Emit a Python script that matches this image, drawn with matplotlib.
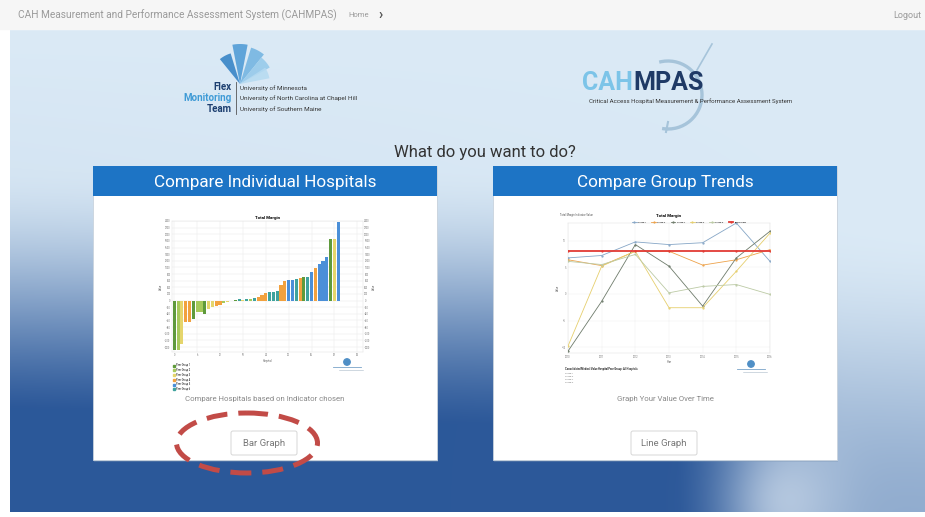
import numpy as np
import matplotlib.pyplot as plt
from matplotlib.patches import Rectangle, FancyBboxPatch, Ellipse, Polygon, Arc, Circle

plt.rcParams['font.family'] = ['Roboto', 'DejaVu Sans']

W, H = 925, 517

# ---- bar thumbnail data (Total Margin per hospital) ----
hospital_margin = [-1500, -1500, -1300, -650, -650, -550, -350, -350, -400, -250, -200,
                   -150, -120, -80, -50, -20, 30, 50, 10, 40, 60, 80, 120, 170, 220,
                   250, 270, 280, 480, 580, 620, 630, 660, 680, 700, 700, 850, 970,
                   1100, 1200, 1300, 1850, 1850, 2370]
hospital_group = [0, 1, 2, 3, 3, 0, 1, 1, 0, 2, 2, 3, 3, 1, 2, 5, 0, 5, 2, 5, 1, 5, 3, 3,
                  3, 5, 5, 5, 3, 3, 4, 4, 5, 3, 0, 5, 4, 3, 4, 4, 4, 0, 2, 4]
group_names = ["Peer Group 1", "Peer Group 2", "Peer Group 3",
               "Peer Group 4", "Peer Group 5", "Peer Group 6"]
bar_yticks = list(range(-1400, 2401, 200))

# ---- line thumbnail data (Total Margin over time) ----
years = [2010, 2011, 2012, 2013, 2014, 2015, 2016]
trend_names = ["Group 1", "Group 2", "Group 3", "Group 4", "Group 5", "Benchmark"]
trend_values = [
    [6.75, 7.2, 9.75, 9.25, 9.6, 13.3, 6.1],
    [6.4, 5.3, 8.0, 8.0, 5.4, 6.4, 8.3],
    [-10.75, -1.4, 9.25, 5.2, -2.3, 6.75, 11.75],
    [-9.8, 5.2, 8.0, -2.6, -2.6, 4.25, 11.4],
    [6.1, 5.5, 7.4, 0.2, 1.4, 1.75, -0.1],
    [8.0, 8.0, 8.0, 8.0, 8.0, 8.0, 8.0],
]
line_yticks = [-10, -5, 0, 5, 10]

group_colors = ['#5f9a3c', '#a6c95a', '#e5d56c', '#f2a13e', '#4b8fd8', '#3fa39d']
trend_colors = ['#86a6c6', '#eda24a', '#6e7b6b', '#e6cf6e', '#bccaa5', '#e23b35']


def px_axes(x0, y0, x1, y1):
    return fig.add_axes([x0 / W, 1 - y1 / H, (x1 - x0) / W, (y1 - y0) / H])


fig = plt.figure(figsize=(W / 100, H / 100), dpi=100)
fig.patch.set_facecolor('white')
bg = fig.add_axes([0, 0, 1, 1])
bg.set_xlim(0, W)
bg.set_ylim(H, 0)
bg.axis('off')

# page background gradient
yy, xx = np.mgrid[30:512, 10:925].astype(float)
t = (yy - 30) / 482.0
xn = (xx - 10) / 915.0
g = np.clip((xx - 650) / 200.0, 0, 1)
g = g * g * (3 - 2 * g)
dark = np.clip((t - 0.28 - 0.12 * g) / 0.62, 0, 1)
dark = dark * dark * (3 - 2 * dark)
dark = dark * (1 - 0.58 * g) + 0.12 * (1 - xn) * t
spot = np.exp(-((xx - 785) / 55.0) ** 2 - ((yy - 500) / 65.0) ** 2)
light = np.array([219, 234, 246]) / 255
deep = np.array([44, 88, 153]) / 255
img = light + (deep - light) * np.clip(dark, 0, 1)[..., None]
img = img + (np.array([0.78, 0.84, 0.91]) - img) * (0.75 * spot)[..., None]
bg.imshow(img, extent=(10, 925, 512, 30), aspect='auto', zorder=0)

# top bar
bg.add_patch(Rectangle((0, 0), W, 29, color='#f6f6f6', zorder=1))
bg.text(18, 15, "CAH Measurement and Performance Assessment System (CAHMPAS)",
        fontsize=7.3, color='#9a9a9a', va='center', zorder=2)
bg.text(348, 15, "Home", fontsize=5.5, color='#9a9a9a', va='center', zorder=2)
bg.text(378, 15, "\u203a", fontsize=10, color='#555555', va='center', fontweight='bold', zorder=2)
bg.text(921, 15, "Logout", fontsize=6.5, color='#9a9a9a', va='center', ha='right', zorder=2)

# Flex Monitoring Team logo
pivot = np.array([240.0, 84.0])
blade_cols = ['#2f7fc4', '#4a98d4', '#6fb2e0', '#93c8ea', '#b5daf1']
for ang, r, c in zip([118, 90, 62, 40, 22], [32, 40, 38, 34, 30], blade_cols):
    a = np.radians(np.linspace(ang - 11, ang + 11, 12))
    pts = [pivot] + [pivot + r * np.array([np.cos(v), -np.sin(v)]) for v in a]
    bg.add_patch(Polygon(pts, closed=True, color=c, alpha=0.85, lw=0, zorder=2))
bg.text(232, 87, "Flex", fontsize=7, fontweight='bold', color='#1d3f70', ha='right', va='center')
bg.text(232, 98, "Monitoring", fontsize=7, fontweight='bold', color='#3f9bd6', ha='right', va='center')
bg.text(232, 109, "Team", fontsize=7, fontweight='bold', color='#1d3f70', ha='right', va='center')
bg.plot([236, 236], [82, 114], color='#555555', lw=0.6)
for i, s in enumerate(["University of Minnesota", "University of North Carolina at Chapel Hill",
                       "University of Southern Maine"]):
    bg.text(240, 88 + i * 10.5, s, fontsize=4.6, color='#333333', va='center')

# CAHMPAS logo
bg.add_patch(Arc((668, 95), 68, 68, theta1=-105, theta2=100, color='#a6c4da', lw=2.4, zorder=2))
bg.plot([697, 712], [70, 44], color='#a6c4da', lw=1.2, zorder=2)
bg.plot([668, 666], [122, 132], color='#a6c4da', lw=1.5, zorder=2)
bg.text(633, 83, "CAH", fontsize=18, fontweight='bold', color='#7cc4e8', ha='right', va='center', zorder=3)
bg.text(633, 83, "MPAS", fontsize=18, fontweight='bold', color='#1f3a66', ha='left', va='center', zorder=3)
bg.text(589, 101, "Critical Access Hospital Measurement & Performance Assessment System",
        fontsize=4.4, color='#333333', va='center', zorder=3)

bg.text(485, 152, "What do you want to do?", fontsize=12, color='#333333', ha='center', va='center')

# cards
cards = [(93, "Compare Individual Hospitals", "Compare Hospitals based on Indicator chosen", "Bar Graph"),
         (493, "Compare Group Trends", "Graph Your Value Over Time", "Line Graph")]
for x0, title, caption, button in cards:
    bg.add_patch(Rectangle((x0 + 1, 168), 344, 294, color='#7d97b5', alpha=0.35, lw=0, zorder=1))
    bg.add_patch(Rectangle((x0, 166), 344, 294, facecolor='white', edgecolor='#c9d3dd', lw=0.6, zorder=2))
    bg.add_patch(Rectangle((x0, 166), 344, 30, facecolor='#1d74c5', edgecolor='none', zorder=3))
    bg.text(x0 + 172, 182, title, fontsize=12.3, color='white', ha='center', va='center', zorder=4)
    bg.text(x0 + 172, 399, caption, fontsize=5.6, color='#888888', ha='center', va='center', zorder=4)
    bw = 66
    bg.add_patch(FancyBboxPatch((x0 + 172 - bw / 2 - 1, 431), bw, 24,
                                boxstyle="round,pad=0,rounding_size=2",
                                facecolor='white', edgecolor='#d6d6d6', lw=0.7, zorder=4))
    bg.text(x0 + 171, 443, button, fontsize=6.8, color='#777777', ha='center', va='center', zorder=5)

# thumbnail logos and footers
for cx, cy in [(347, 364), (751, 366)]:
    bg.add_patch(Circle((cx, cy - 2), 3.2, color='#4f8fc6', zorder=5))
    bg.plot([cx - 14, cx + 14], [cy + 3, cy + 3], color='#7aa3c9', lw=0.6, zorder=5)
    bg.plot([cx - 8, cx + 16], [cy + 6, cy + 6], color='#aab9c8', lw=0.4, zorder=5)
bg.text(565, 369, "Consolidated Medical Value Hospital Peer Group: All Hospitals",
        fontsize=1.9, fontweight='bold', color='#222222', va='center', zorder=5)
for i, s in enumerate(trend_names[:4]):
    bg.text(565, 373 + i * 3.2, s, fontsize=1.7, color='#777777', va='center', zorder=5)
bg.text(560, 215, "Total Margin Indicator Value", fontsize=1.9, color='#555555', va='center', zorder=5)

# red dashed ellipse around Bar Graph
bg.add_patch(Ellipse((247, 443), 141, 60, fill=False, edgecolor='#c24b47', lw=3.6,
                     linestyle=(0, (4.2, 2.2)), zorder=6))

# ---- bar thumbnail ----
ax1 = px_axes(172, 221, 363, 352)
ax1.bar(range(len(hospital_margin)), hospital_margin, width=0.82,
        color=[group_colors[g] for g in hospital_group], zorder=2)
ax1.set_xlim(-0.6, 49.5)
ax1.set_ylim(-1550, 2400)
ax1.set_yticks(bar_yticks)
ax1.set_yticklabels([str(v) for v in bar_yticks])
ax1.set_xticks(range(0, 50, 6))
ax1.tick_params(labelsize=1.8, length=0, colors='#777777', pad=1)
ax1.grid(color='#e6e6e6', lw=0.3, zorder=0)
for s in ax1.spines.values():
    s.set_color('#dddddd')
    s.set_linewidth(0.3)
ax1.set_title("Total Margin", fontsize=3.2, fontweight='bold', pad=1.5)
ax1.set_xlabel("Hospital", fontsize=1.8, labelpad=1, color='#555555')
ax1.set_ylabel("Value", fontsize=1.8, labelpad=1, color='#555555')
ax1r = ax1.twinx()
ax1r.set_ylim(ax1.get_ylim())
ax1r.set_yticks(bar_yticks)
ax1r.set_yticklabels([str(v) for v in bar_yticks])
ax1r.tick_params(labelsize=1.8, length=0, colors='#777777', pad=1)
ax1r.set_ylabel("Value", fontsize=1.8, labelpad=1, color='#555555')
for s in ax1r.spines.values():
    s.set_visible(False)
handles = [Rectangle((0, 0), 1, 1, color=c) for c in group_colors]
ax1.legend(handles, group_names, loc='upper left', bbox_to_anchor=(0.0, -0.08),
           fontsize=1.8, frameon=False, handlelength=0.8, handleheight=0.8,
           labelspacing=0.3, borderaxespad=0, handletextpad=0.4)

# ---- line thumbnail ----
ax2 = px_axes(568, 223, 770, 353)
for vals, name, c in zip(trend_values, trend_names, trend_colors):
    lw = 1.3 if name == "Benchmark" else 0.6
    ax2.plot(years, vals, color=c, lw=lw, label=name, marker='o', markersize=0.6, zorder=3)
ax2.set_xlim(years[0], years[-1])
ax2.set_ylim(-11.1, 13.3)
ax2.set_yticks(line_yticks)
ax2.set_xticks(years)
ax2.tick_params(labelsize=1.8, length=0, colors='#777777', pad=1.5)
ax2.grid(color='#ececec', lw=0.3, zorder=0)
for s in ax2.spines.values():
    s.set_color('#dddddd')
    s.set_linewidth(0.3)
ax2.set_title("Total Margin", fontsize=3.2, fontweight='bold', pad=4)
ax2.set_xlabel("Year", fontsize=1.8, labelpad=1, color='#555555')
ax2.set_ylabel("Value", fontsize=1.8, labelpad=1, color='#555555')
ax2.legend(loc='center', bbox_to_anchor=(0.6, 1.005), ncol=6, fontsize=1.7, frameon=False,
           handlelength=2, columnspacing=2.2, handletextpad=0.5, borderaxespad=0)

fig.savefig("out.png", dpi=100)
